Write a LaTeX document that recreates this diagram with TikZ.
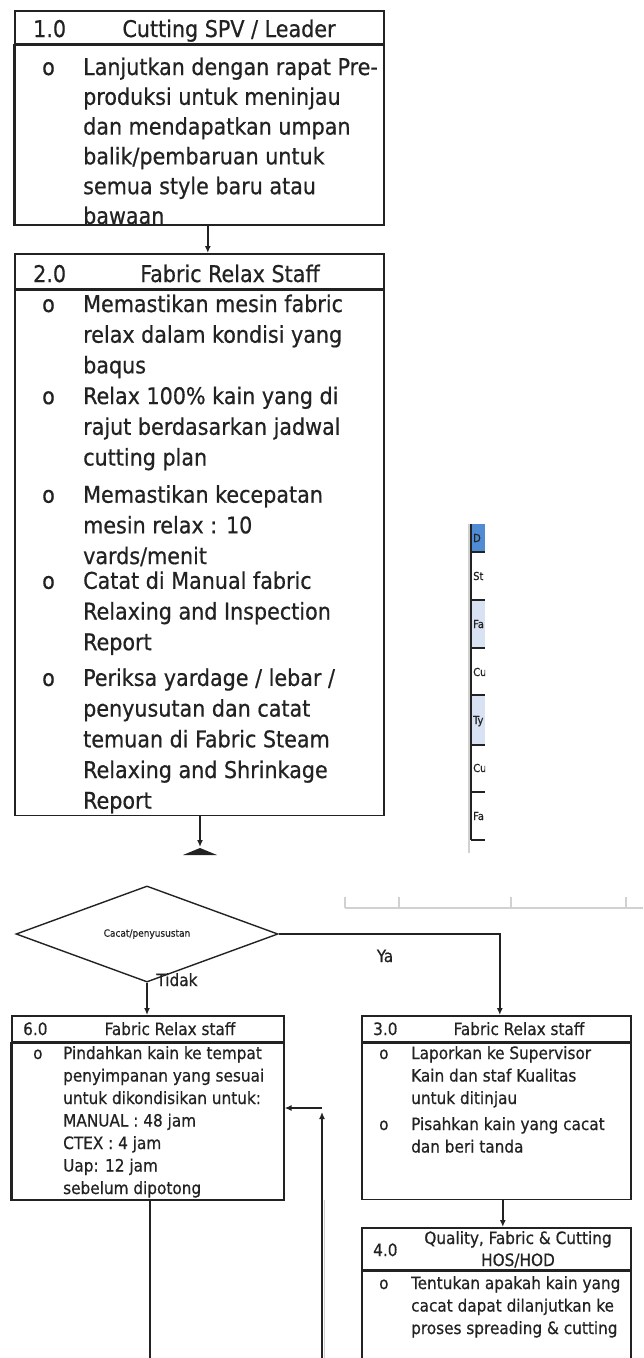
\documentclass[tikz,border=0pt]{standalone}
\usepackage{fontspec}
\setmainfont{DejaVu Sans Condensed}[FakeBold=0.6]
\usetikzlibrary{shapes.geometric}
\usetikzlibrary{positioning}
\usetikzlibrary{arrows.meta}

\definecolor{ink}{HTML}{222222}
\definecolor{hdrblue}{HTML}{4F8CD3}
\definecolor{rowblue}{HTML}{D9E2F3}
\newcommand{\bigtxt}[1]{\fontsize{23}{#1}\selectfont}
\newcommand{\smalltxt}{\fontsize{17}{22.5}\selectfont}

\begin{document}
\begin{tikzpicture}[x=1pt, y=-1pt,
    box/.style={draw=ink, line width=1.6pt, inner sep=0pt, anchor=north west},
    txt/.style={inner sep=0pt, anchor=base west, text=ink},
    ttl/.style={inner sep=0pt, anchor=base, text=ink},
    flow/.style={draw=ink, line width=1.4pt, -{Latex[length=7pt,width=6pt]}},
    line/.style={draw=ink, line width=1.4pt},
    faint/.style={draw=black!18, line width=1.6pt}]
  \useasboundingbox (0,0) rectangle (643,1358);

  % table fragment on the right
  \fill[hdrblue] (471,524) rectangle (485,552);
  \fill[rowblue] (471,600) rectangle (485,648);
  \fill[rowblue] (471,695) rectangle (485,745);
  \begin{scope}
    \clip (471,520) rectangle (485,845);
    \node[txt, font=\fontsize{11}{11}\selectfont] (r0) at (473,542) {D};
    \node[txt, font=\fontsize{11}{11}\selectfont] (r1) at (473,580) {St};
    \node[txt, font=\fontsize{11}{11}\selectfont] (r2) at (473,628) {Fa};
    \node[txt, font=\fontsize{11}{11}\selectfont] (r3) at (473,676) {Cu};
    \node[txt, font=\fontsize{11}{11}\selectfont] (r4) at (473,724) {Ty};
    \node[txt, font=\fontsize{11}{11}\selectfont] (r5) at (473,772) {Cu};
    \node[txt, font=\fontsize{11}{11}\selectfont] (r6) at (473,820) {Fa};
  \end{scope}
  \foreach \y in {552,600,648,695,745,792,840}
    \draw[ink, line width=1.5pt] (471,\y) -- (485,\y);
  \draw[faint] (469,524) -- (469,853);
  \draw[ink, line width=2pt] (471,524) -- (471,840);

  % ruler
  \draw[faint] (345,908) -- (643,908);
  \foreach \x in {345,399,511,626}
    \draw[faint] (\x,897) -- (\x,908);

  % box 1.0
  \node[box, minimum width=369pt, minimum height=33pt] (h1) at (14,10) {};
  \node[box, minimum width=369pt, minimum height=179pt] (b1) at (h1.south west) {};
  \node[txt, font=\bigtxt{30}] (n1) at (33,37) {1.0};
  \node[ttl, font=\bigtxt{30}] (s1) at (229,37) {Cutting SPV / Leader};
  \begin{scope}
    \clip (b1.north west) rectangle (b1.south east);
    \node[txt, font=\bigtxt{29.8}] (t1) at (42,75) {\begin{tabular}[t]{@{}p{41pt}@{}l@{}}
      o & Lanjutkan dengan rapat Pre-\\
        & produksi untuk meninjau\\
        & dan mendapatkan umpan\\
        & balik/pembaruan untuk\\
        & semua style baru atau\\
        & bawaan
    \end{tabular}};
  \end{scope}
  \draw[ink, line width=1.6pt] (b1.north west) rectangle (b1.south east);

  % box 2.0
  \node[box, minimum width=369pt, minimum height=35pt] (h2) at (14,253) {};
  \node[box, minimum width=369pt, minimum height=525pt] (b2) at (h2.south west) {};
  \node[txt, font=\bigtxt{30}] (n2) at (33,282) {2.0};
  \node[ttl, font=\bigtxt{30}] (s2) at (230,282) {Fabric Relax Staff};
  \node[txt, font=\bigtxt{30.7}] (t2) at (42,312) {\begin{tabular}[t]{@{}p{41pt}@{}l@{}}
      o & Memastikan mesin fabric\\
        & relax dalam kondisi yang\\
        & baqus\\
      o & Relax 100\% kain yang di\\
        & rajut berdasarkan jadwal\\
        & cutting plan\\[6.5pt]
      o & Memastikan kecepatan\\
        & mesin relax : 10\\
        & vards/menit\\[-6pt]
      o & Catat di Manual fabric\\
        & Relaxing and Inspection\\
        & Report\\[5pt]
      o & Periksa yardage / lebar /\\
        & penyusutan dan catat\\
        & temuan di Fabric Steam\\
        & Relaxing and Shrinkage\\
        & Report
    \end{tabular}};

  \draw[flow] ([xshift=8.5pt]b1.south) -- ([xshift=8.5pt]h2.north);
  \coordinate (cut2) at (200,847);
  \draw[flow] (b2.south -| cut2) -- (cut2);
  \fill[ink] (183,855) -- (200,848) -- (217,855) -- cycle;

  % decision
  \node[diamond, draw=ink, line width=1.4pt, inner sep=0pt, minimum width=262pt,
    minimum height=68pt, text=ink, font=\fontsize{10}{10}\selectfont] (dec) at (147,934) {Cacat/penyusustan};
  \node[ttl, font=\smalltxt] (ya) at (385,962) {Ya};
  \node[ttl, font=\smalltxt] (tidak) at (177,986) {Tidak};

  % box 6.0
  \node[box, minimum width=272pt, minimum height=26pt] (h6) at (11,1015) {};
  \node[box, minimum width=272pt, minimum height=156pt] (b6) at (h6.south west) {};
  \node[txt, font=\smalltxt] (n6) at (23,1035) {6.0};
  \node[ttl, font=\smalltxt] (s6) at (170,1035) {Fabric Relax staff};
  \begin{scope}
    \clip (b6.north west) rectangle (b6.south east);
    \node[txt, font=\smalltxt] (t6) at (33,1059) {\begin{tabular}[t]{@{}p{30pt}@{}l@{}}
      o & Pindahkan kain ke tempat\\
        & penyimpanan yang sesuai\\
        & untuk dikondisikan untuk:\\
        & MANUAL : 48 jam\\
        & CTEX : 4 jam\\
        & Uap: 12 jam\\
        & sebelum dipotong
    \end{tabular}};
  \end{scope}
  \draw[ink, line width=1.6pt] (b6.north west) rectangle (b6.south east);

  % box 3.0
  \node[box, minimum width=269pt, minimum height=26pt] (h3) at (361,1015) {};
  \node[box, minimum width=269pt, minimum height=156pt] (b3) at (h3.south west) {};
  \node[txt, font=\smalltxt] (n3) at (373,1035) {3.0};
  \node[ttl, font=\smalltxt] (s3) at (519,1035) {Fabric Relax staff};
  \node[txt, font=\smalltxt] (t3) at (379,1059) {\begin{tabular}[t]{@{}p{32pt}@{}l@{}}
      o & Laporkan ke Supervisor\\
        & Kain dan staf Kualitas\\
        & untuk ditinjau\\[3.5pt]
      o & Pisahkan kain yang cacat\\
        & dan beri tanda
    \end{tabular}};

  % box 4.0
  \node[box, minimum width=269pt, minimum height=42pt] (h4) at (361,1227) {};
  \node[box, minimum width=269pt, minimum height=110pt] (b4) at (h4.south west) {};
  \node[txt, font=\smalltxt] (n4) at (373,1256) {4.0};
  \node[ttl, font=\fontsize{17}{22}\selectfont] (s4) at (518,1244) {\begin{tabular}[t]{@{}c@{}}
      Quality, Fabric \& Cutting\\ HOS/HOD
    \end{tabular}};
  \node[txt, font=\smalltxt] (t4) at (379,1289) {\begin{tabular}[t]{@{}p{32pt}@{}l@{}}
      o & Tentukan apakah kain yang\\
        & cacat dapat dilanjutkan ke\\
        & proses spreading \& cutting
    \end{tabular}};

  % connectors
  \draw[flow] (dec.south) -- (h6.north -| dec.south);
  \draw[line, -{Latex[length=7pt,width=6pt]}] (dec.east) -| ([xshift=3.5pt]h3.north);
  \draw[flow] ([xshift=6.5pt]b3.south) -- ([xshift=6.5pt]h4.north);
  \coordinate (fbbot) at (322,1362);
  \coordinate (fbtop) at (322,1108);
  \draw[faint] (324.5,1200) -- (324.5,1362);
  \draw[flow] (fbbot) -- ([yshift=-4pt]fbtop);
  \draw[flow] (fbtop) -- (fbtop -| b6.east);
  \coordinate (outb6) at (150,1362);
  \draw[line] (b6.south -| outb6) -- (outb6);
\end{tikzpicture}
\end{document}
